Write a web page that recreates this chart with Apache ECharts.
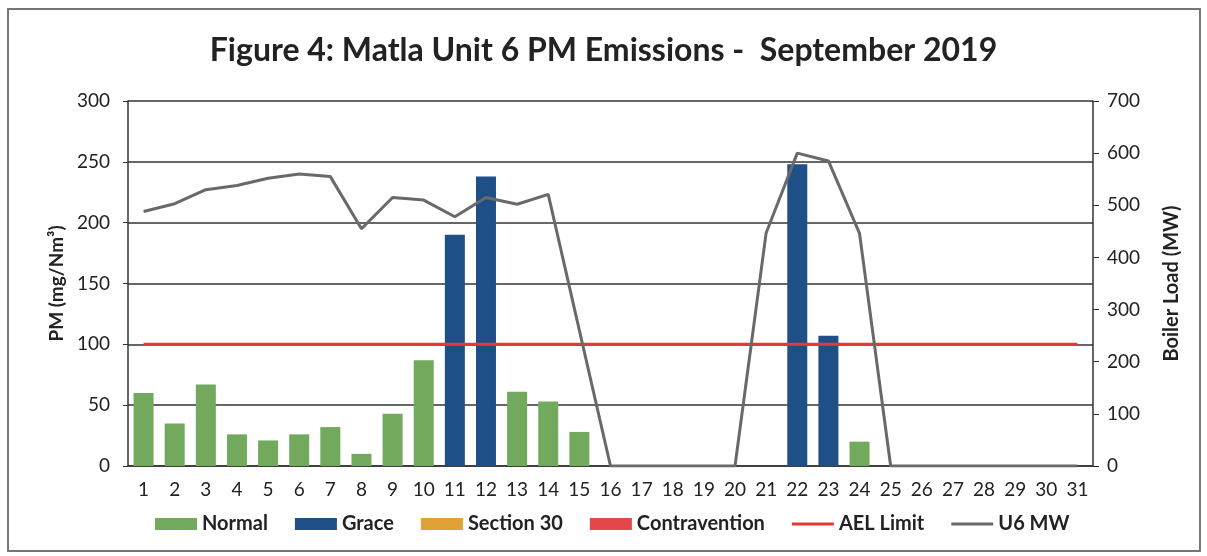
<!DOCTYPE html>
<html>
<head>
<meta charset="utf-8">
<title>Matla Unit 6 PM Emissions</title>
<script src="https://cdn.jsdelivr.net/npm/echarts@6/dist/echarts.min.js"></script>
<style>
  html, body { margin: 0; padding: 0; background: #fff; }
  #chart { width: 1207px; height: 556px; }
</style>
</head>
<body>
<div id="chart"></div>
<script>
// days of September 2019
const days = [];
for (let d = 1; d <= 31; d++) days.push(String(d));

// PM (mg/Nm3) - normal days
const normal = [60, 35, 67, 26, 21, 26, 32, 10, 43, 87, null, null, 61, 53, 28,
  null, null, null, null, null, null, null, null, 20, null, null, null, null, null, null, null];
// PM (mg/Nm3) - grace days
const grace = [null, null, null, null, null, null, null, null, null, null, 190, 238, null, null, null,
  null, null, null, null, null, null, 248, 107, null, null, null, null, null, null, null, null];
const section30 = [];
const contravention = [];
const aelLimit = [100, 100, 100, 100, 100, 100, 100, 100, 100, 100, 100, 100, 100, 100, 100, 100,
  100, 100, 100, 100, 100, 100, 100, 100, 100, 100, 100, 100, 100, 100, 100];
// boiler load (MW)
const u6MW = [488, 503, 530, 538, 552, 560, 555, 455, 515, 510, 478, 515, 502, 521, 260,
  0, 0, 0, 0, 0, 447, 600, 585, 446, 0, 0, 0, 0, 0, 0, 0];

const font = "Lato";
const lineIcon = "path://M0,0 H42 V3 H0 Z";
const chart = echarts.init(document.getElementById("chart"));
chart.setOption({
  backgroundColor: "#fff",
  animation: false,
  textStyle: { fontFamily: font },
  title: {
    text: "Figure 4: Matla Unit 6 PM Emissions -  September 2019",
    left: "center",
    top: 30,
    textStyle: { fontFamily: font, fontSize: 32, fontWeight: "bold", color: "#222" },
  },
  graphic: [
    {
      type: "rect",
      shape: { x: 8, y: 9, width: 1192, height: 542 },
      style: { fill: "none", stroke: "#777", lineWidth: 2 },
      silent: true,
    },
  ],
  grid: { left: 128, right: 114, top: 101, bottom: 90 },
  legend: {
    bottom: 17,
    left: 150,
    itemWidth: 42,
    itemHeight: 12,
    itemGap: 27,
    textStyle: { fontFamily: font, fontSize: 20, fontWeight: "bold", color: "#222" },
    data: [
      { name: "Normal", icon: "rect" },
      { name: "Grace", icon: "rect" },
      { name: "Section 30", icon: "rect" },
      { name: "Contravention", icon: "rect" },
      { name: "AEL Limit", icon: lineIcon },
      { name: "U6 MW", icon: lineIcon },
    ],
  },
  xAxis: {
    type: "category",
    data: days,
    axisTick: { show: false },
    axisLine: { lineStyle: { color: "#333", width: 1.5 } },
    axisLabel: { fontSize: 19, color: "#222", margin: 14 },
  },
  yAxis: [
    {
      type: "value",
      min: 0,
      max: 300,
      interval: 50,
      name: "PM (mg/Nm³)",
      nameLocation: "middle",
      nameGap: 62,
      nameTextStyle: { fontSize: 19, fontWeight: "bold", color: "#222" },
      axisLine: { show: true, lineStyle: { color: "#333", width: 1.5 } },
      axisTick: { show: true, length: 5, lineStyle: { color: "#333" } },
      axisLabel: { fontSize: 19, color: "#222", margin: 18 },
      splitLine: { lineStyle: { color: "#333", width: 1.5 } },
    },
    {
      type: "value",
      min: 0,
      max: 700,
      interval: 100,
      name: "Boiler Load (MW)",
      nameLocation: "middle",
      nameGap: 69,
      nameTextStyle: { fontSize: 20, fontWeight: "bold", color: "#222" },
      axisLine: { show: true, lineStyle: { color: "#333", width: 1.5 } },
      axisTick: { show: true, length: 6, lineStyle: { color: "#333" } },
      axisLabel: { fontSize: 19, color: "#222", margin: 14 },
      splitLine: { show: false },
    },
  ],
  series: [
    { name: "Normal", type: "bar", stack: "pm", barWidth: 20, data: normal,
      itemStyle: { color: "#72a95c" } },
    { name: "Grace", type: "bar", stack: "pm", barWidth: 20, data: grace,
      itemStyle: { color: "#1e4f86" } },
    { name: "Section 30", type: "bar", stack: "pm", barWidth: 20, data: section30,
      itemStyle: { color: "#e0a236" } },
    { name: "Contravention", type: "bar", stack: "pm", barWidth: 20, data: contravention,
      itemStyle: { color: "#e4474a" } },
    { name: "AEL Limit", type: "line", data: aelLimit, symbol: "none",
      lineStyle: { color: "#e5393d", width: 3 }, itemStyle: { color: "#e5393d" } },
    { name: "U6 MW", type: "line", yAxisIndex: 1, data: u6MW, symbol: "none",
      lineStyle: { color: "#696969", width: 3 }, itemStyle: { color: "#696969" } },
  ],
});
</script>
</body>
</html>
